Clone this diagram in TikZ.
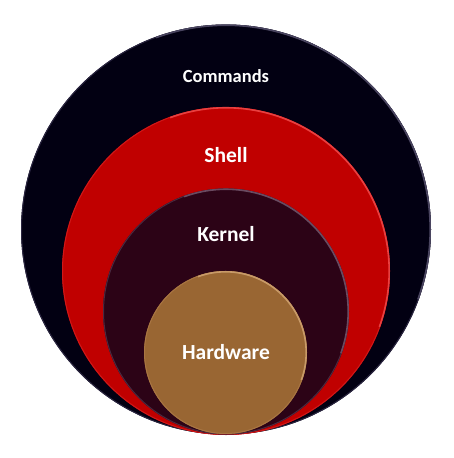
\documentclass[tikz,border=0pt]{standalone}
\usepackage{fontspec}
\setmainfont{Carlito}
\begin{document}
\begin{tikzpicture}[x=1pt,y=-1pt,
  ring/.style={line width=1pt},
  hl/.style={line width=1.6pt},
  lbl/.style={text=white,font=\bfseries\fontsize{21.5}{24}\selectfont,inner sep=0pt},
  lblsmall/.style={text=white,font=\bfseries\fontsize{18.5}{21}\selectfont,inner sep=0pt}]
\useasboundingbox (0,0) rectangle (454,458);
\definecolor{cmdcol}{HTML}{020012}
\definecolor{cmdedge}{HTML}{2A2540}
\definecolor{cmdhl}{HTML}{4A4560}
\definecolor{shellcol}{HTML}{C00000}
\definecolor{shelledge}{HTML}{D01818}
\definecolor{shellhl}{HTML}{E84040}
\definecolor{kercol}{HTML}{2C0316}
\definecolor{keredge}{HTML}{4A2A40}
\definecolor{kerhl}{HTML}{6A4A60}
\definecolor{hwcol}{HTML}{996633}
\definecolor{hwedge}{HTML}{A87542}
\definecolor{hwhl}{HTML}{C89A68}
% Commands
\fill[cmdcol] (226,229.5) circle (205);
\draw[cmdedge,ring] (226,229.5) circle (204.5);
\draw[cmdhl,hl] (226,229.5) ++(-110:204.2) arc[start angle=-110,end angle=20,radius=204.2];
% Shell
\fill[shellcol] (226,271) circle (164);
\draw[shelledge,ring] (226,271) circle (163.5);
\draw[shellhl,hl] (226,271) ++(-110:163.2) arc[start angle=-110,end angle=20,radius=163.2];
% Kernel
\fill[kercol] (226,311.5) circle (123);
\draw[keredge,ring] (226,311.5) circle (122.5);
\draw[kerhl,hl] (226,311.5) ++(-110:122.2) arc[start angle=-110,end angle=20,radius=122.2];
% Hardware
\fill[hwcol] (225.5,352.5) circle (81.5);
\draw[hwedge,ring] (225.5,352.5) circle (81);
\draw[hwhl,hl] (225.5,352.5) ++(-110:80.7) arc[start angle=-110,end angle=20,radius=80.7];
\node[lblsmall] (cmd) at (226,76) {Commands};
\node[lbl] (shell) at (226,155) {Shell};
\node[lbl] (kernel) at (226,234) {Kernel};
\node[lbl] (hw) at (226,352) {Hardware};
\end{tikzpicture}
\end{document}
